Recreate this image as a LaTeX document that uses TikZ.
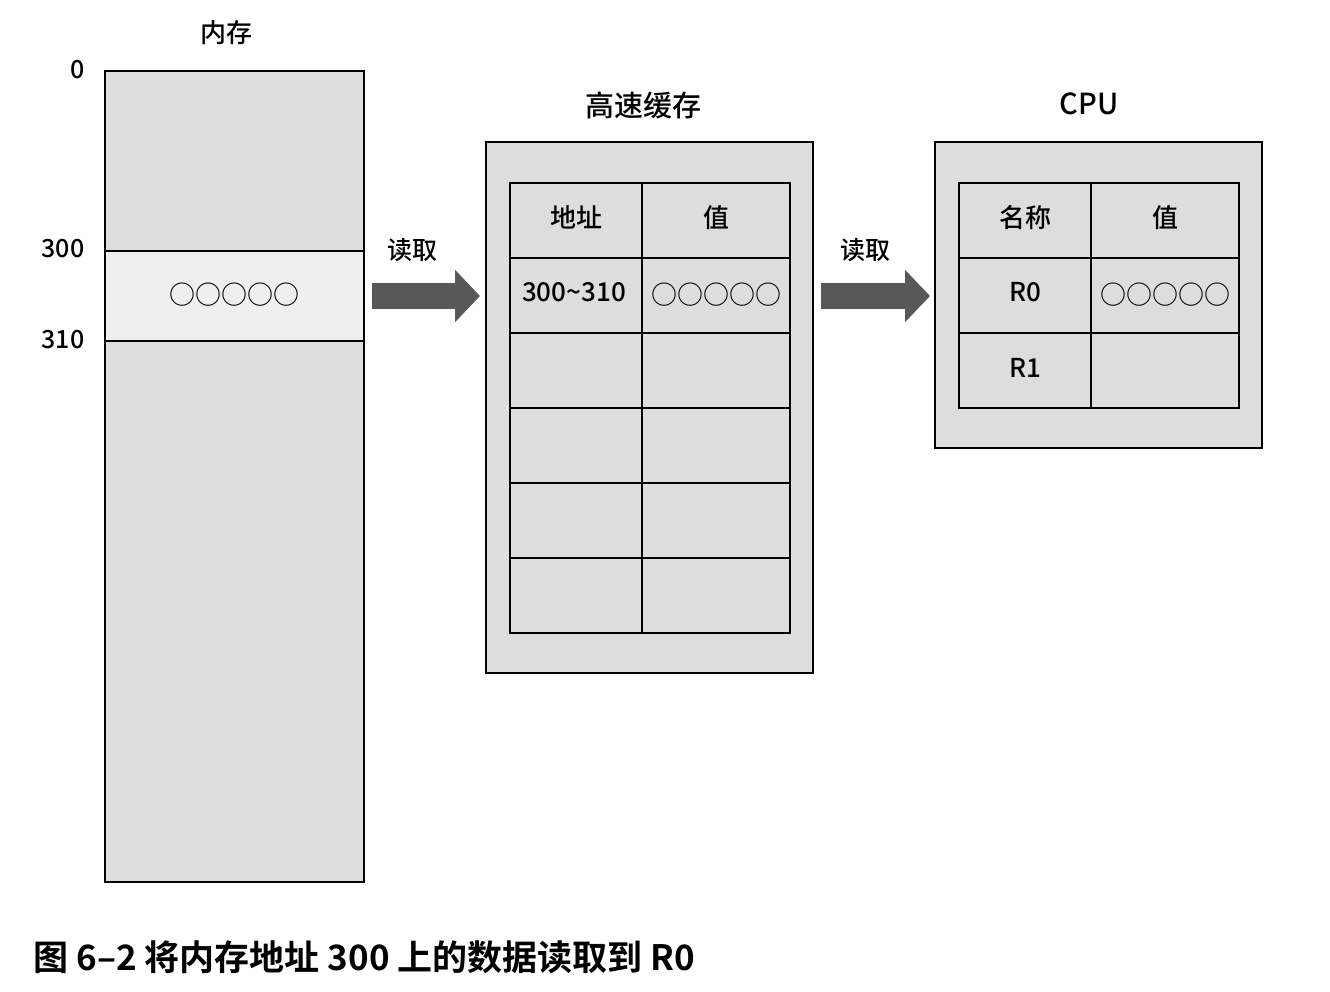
\documentclass[tikz,border=0pt]{standalone}
\usepackage{fontspec}
\setmainfont{Noto Sans CJK SC}[UprightFont={* Medium}, BoldFont={* Bold}]
\usepackage{xcolor}
\usetikzlibrary{positioning, arrows.meta}
\definecolor{boxgray}{RGB}{221,221,221}
\definecolor{bandgray}{RGB}{239,239,239}
\definecolor{arrowgray}{RGB}{88,88,88}
\tikzstyle{outerbox} = [draw, rectangle, fill=boxgray, line width=2.5pt, outer sep=0pt, inner sep=0pt]
\tikzstyle{cellA} = [draw, rectangle, fill=boxgray, line width=2.5pt, outer sep=0pt, inner sep=0pt, minimum width=132pt, minimum height=75pt]
\tikzstyle{cellB} = [cellA, minimum width=148pt]
\tikzstyle{celltext} = [yshift=3pt, font=\fontsize{26}{30}\selectfont]
\tikzstyle{title} = [font=\fontsize{29}{34}\selectfont]
\tikzstyle{addr} = [anchor=east, font=\fontsize{25}{30}\selectfont]
\tikzstyle{readlabel} = [font=\fontsize{25}{30}\selectfont]
\tikzstyle{bigarrow} = [line width=26pt, draw=arrowgray, -{Triangle[length=25pt, width=51pt]}]

\begin{document}
\begin{tikzpicture}[x=1pt, y=-1pt]
    \useasboundingbox (0,0) rectangle (1330,992);
    % memory
    \node (mem) [outerbox, minimum width=259pt, minimum height=811pt] at (234.5,476.5) {};
    \node (band) [outerbox, fill=bandgray, minimum width=259pt, minimum height=90pt] at (234.5,296) {};
    \node (memval) [celltext, yshift=-2pt] at (band) {○○○○○};
    \node (memtitle) [title, font=\fontsize{26}{30}\selectfont] at (226,33) {内存};
    \node (a0) [addr] at (88,70) {0};
    \node (a300) [addr] at (88,249) {300};
    \node (a310) [addr] at (88,340) {310};
    % cache
    \node (cache) [outerbox, minimum width=327pt, minimum height=531pt] at (649.5,407.5) {};
    \node (cachetitle) [title] at (643,105) {高速缓存};
    \foreach \r in {0,...,5} {
        \node (cA\r) [cellA] at (576,{220.5+75*\r}) {};
        \node (cB\r) [cellB] at (716,{220.5+75*\r}) {};
    }
    \node at (cA0) [celltext] {地址};
    \node at (cB0) [celltext] {值};
    \node at (cA1) [celltext, xshift=-2pt] {300\textasciitilde310};
    \node at (cB1) [celltext, yshift=-2pt] {○○○○○};
    % cpu
    \node (cpu) [outerbox, minimum width=327pt, minimum height=306pt] at (1098.5,295) {};
    \node (cputitle) [title] at (1089,104) {CPU};
    \foreach \r in {0,...,2} {
        \node (rA\r) [cellA] at (1025,{220.5+75*\r}) {};
        \node (rB\r) [cellB] at (1165,{220.5+75*\r}) {};
    }
    \node at (rA0) [celltext] {名称};
    \node at (rB0) [celltext] {值};
    \node at (rA1) [celltext] {R0};
    \node at (rB1) [celltext, yshift=-2pt] {○○○○○};
    \node at (rA2) [celltext] {R1};
    % arrows
    \draw [bigarrow, shorten <=8pt, shorten >=6pt] (mem.east |- band.center) -- (cache.west |- band.center);
    \draw [bigarrow, shorten <=8pt, shorten >=5pt] (cache.east |- band.center) -- (cpu.west |- band.center);
    \node (read1) [readlabel] at (412,250) {读取};
    \node (read2) [readlabel] at (865,250) {读取};
    % caption
    \node (caption) [anchor=west, font=\bfseries\fontsize{35}{40}\selectfont] at (30,957) {图 6–2 将内存地址 300 上的数据读取到 R0};
\end{tikzpicture}
\end{document}
